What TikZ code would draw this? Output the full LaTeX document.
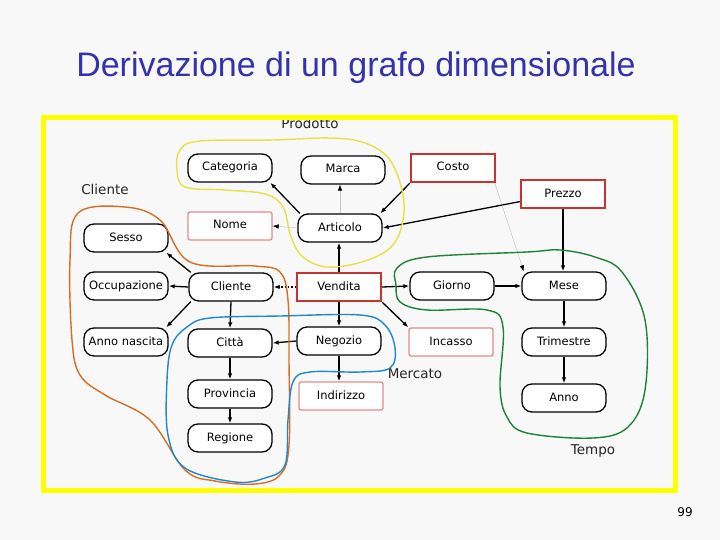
\documentclass[tikz,border=0pt]{standalone}
\usepackage{fontspec}
\setmainfont{DejaVu Sans}
\newfontfamily\titlefont{Liberation Sans}
\usetikzlibrary{arrows.meta}
\definecolor{bg}{RGB}{248,248,248}
\definecolor{titleblue}{RGB}{51,51,170}
\definecolor{factred}{RGB}{200,50,50}
\definecolor{descrpink}{RGB}{225,140,140}
\definecolor{frameyellow}{RGB}{255,255,0}
\definecolor{prodyellow}{RGB}{232,224,70}
\definecolor{clientorange}{RGB}{215,110,35}
\definecolor{mercblue}{RGB}{35,135,205}
\definecolor{tempogreen}{RGB}{30,130,55}
\begin{document}
\begin{tikzpicture}[>={Latex[length=6pt,width=4.5pt]}, x=1pt, y=-1pt,
  attr/.style={draw=black, line width=1.3pt, rounded corners=10pt, fill=white,
    minimum width=84pt, minimum height=28pt, inner sep=0pt, text height=8.5pt, text depth=2.5pt,
    font=\fontsize{11.5}{13}\selectfont},
  fact/.style={attr, draw=factred, line width=2.4pt, rounded corners=0pt},
  descr/.style={attr, draw=descrpink, rounded corners=2pt},
  edge/.style={->, line width=1.3pt},
  faint/.style={-{Latex[length=6pt,width=4.5pt,black]}, gray!45, line width=0.5pt},
  group/.style={font=\fontsize{13.5}{15}\selectfont, text=black!85},
  contour/.style={line width=1.4pt}]
\useasboundingbox[fill=bg] (0,0) rectangle (720,540);
% titolo
\node[font=\titlefont\fontsize{34}{40}\selectfont, text=titleblue] (titolo) at (356,68) {Derivazione di un grafo dimensionale};
\node[font=\fontsize{12}{14}\selectfont] (pagina) at (685,512) {99};
% etichette dei gruppi
\node[group] (lprodotto) at (310,123) {Prodotto};
\node[group] (lcliente) at (105,189) {Cliente};
\node[group] (lmercato) at (415,374) {Mercato};
\node[group] (ltempo) at (593,451) {Tempo};
% cornice
\draw[frameyellow, line width=5pt] (43.5,117.5) rectangle (675.5,490.5);
% nodi
\node[attr] (categoria) at (230,168) {Categoria};
\node[attr] (marca) at (343,170) {Marca};
\node[fact] (costo) at (453,168) {Costo};
\node[fact] (prezzo) at (563,194) {Prezzo};
\node[descr] (nome) at (230,226) {Nome};
\node[attr] (articolo) at (340,228) {Articolo};
\node[attr] (sesso) at (126,238) {Sesso};
\node[attr] (occupazione) at (126,286) {Occupazione};
\node[attr] (cliente) at (231,287) {Cliente};
\node[fact] (vendita) at (339,287) {Vendita};
\node[attr] (giorno) at (452,286) {Giorno};
\node[attr] (mese) at (564,286) {Mese};
\node[attr] (annonascita) at (126,342) {Anno nascita};
\node[attr] (citta) at (230,343) {Città};
\node[attr] (negozio) at (339,341) {Negozio};
\node[descr] (incasso) at (451,342) {Incasso};
\node[attr] (trimestre) at (564,342) {Trimestre};
\node[attr] (provincia) at (230,394) {Provincia};
\node[descr] (indirizzo) at (341,396) {Indirizzo};
\node[attr] (anno) at (564,398) {Anno};
\node[attr] (regione) at (230,438) {Regione};
% archi
\draw[edge] (articolo.160) -- (categoria.-20);
\draw[faint] (articolo.north) -- (marca.south -| articolo.north);
\draw[faint] (articolo.west) -- (nome.east);
\draw[edge] (costo.south west) -- (articolo.20);
\draw[edge] (prezzo.190) -- (articolo.east);
\draw[faint] (costo.-20) -- (mese.160);
\draw[edge] (prezzo.south) -- (mese.north -| prezzo.south);
\draw[edge] (vendita.north) -- (articolo.south -| vendita.north);
\draw[edge, dotted] (vendita.west) -- (cliente.east);
\draw[edge] (vendita.east) -- (giorno.west);
\draw[edge] (vendita.south) -- (negozio.north);
\draw[edge] (vendita.south east) -- (incasso.north west);
\draw[edge] (giorno.east) -- (mese.west);
\draw[edge] (mese.south) -- (trimestre.north);
\draw[edge] (trimestre.south) -- (anno.north);
\draw[edge] (cliente.160) -- (sesso.-20);
\draw[edge] (cliente.west) -- (occupazione.east);
\draw[edge] (cliente.200) -- (annonascita.20);
\draw[edge] (cliente.south) -- (citta.north);
\draw[edge] (negozio.west) -- (citta.east);
\draw[edge] (negozio.south) -- (indirizzo.north -| negozio.south);
\draw[edge] (citta.south) -- (provincia.north);
\draw[edge] (provincia.south) -- (regione.north);
% contorni a mano
\draw[contour, prodyellow] plot[smooth cycle, tension=0.6] coordinates {(180,150) (200,141) (273,140) (330,138) (365,143) (390,160) (403,195) (402,225) (390,248) (362,262) (327,267) (303,257) (291,237) (283,207) (265,194) (225,190) (185,187) (177,170)};
\draw[contour, clientorange] plot[smooth cycle, tension=0.6] coordinates {(78,213) (125,207) (160,220) (190,262) (255,266) (280,272) (288,300) (289,360) (289,445) (280,475) (255,484) (215,481) (185,470) (150,420) (105,395) (80,375) (72,340) (70,260)};
\draw[contour, mercblue] plot[smooth cycle, tension=0.6] coordinates {(187,327) (210,318) (280,316) (360,315) (385,325) (395,348) (390,368) (360,372) (310,372) (293,382) (288,420) (285,465) (265,478) (235,482) (185,468) (168,435) (167,380) (172,345)};
\draw[contour, tempogreen] plot[smooth cycle, tension=0.6] coordinates {(397,268) (427,257) (527,252) (560,250) (595,257) (622,272) (645,320) (645,390) (628,427) (593,438) (527,433) (507,417) (500,387) (503,327) (487,310) (427,310) (400,302) (396,285)};
\end{tikzpicture}
\end{document}
